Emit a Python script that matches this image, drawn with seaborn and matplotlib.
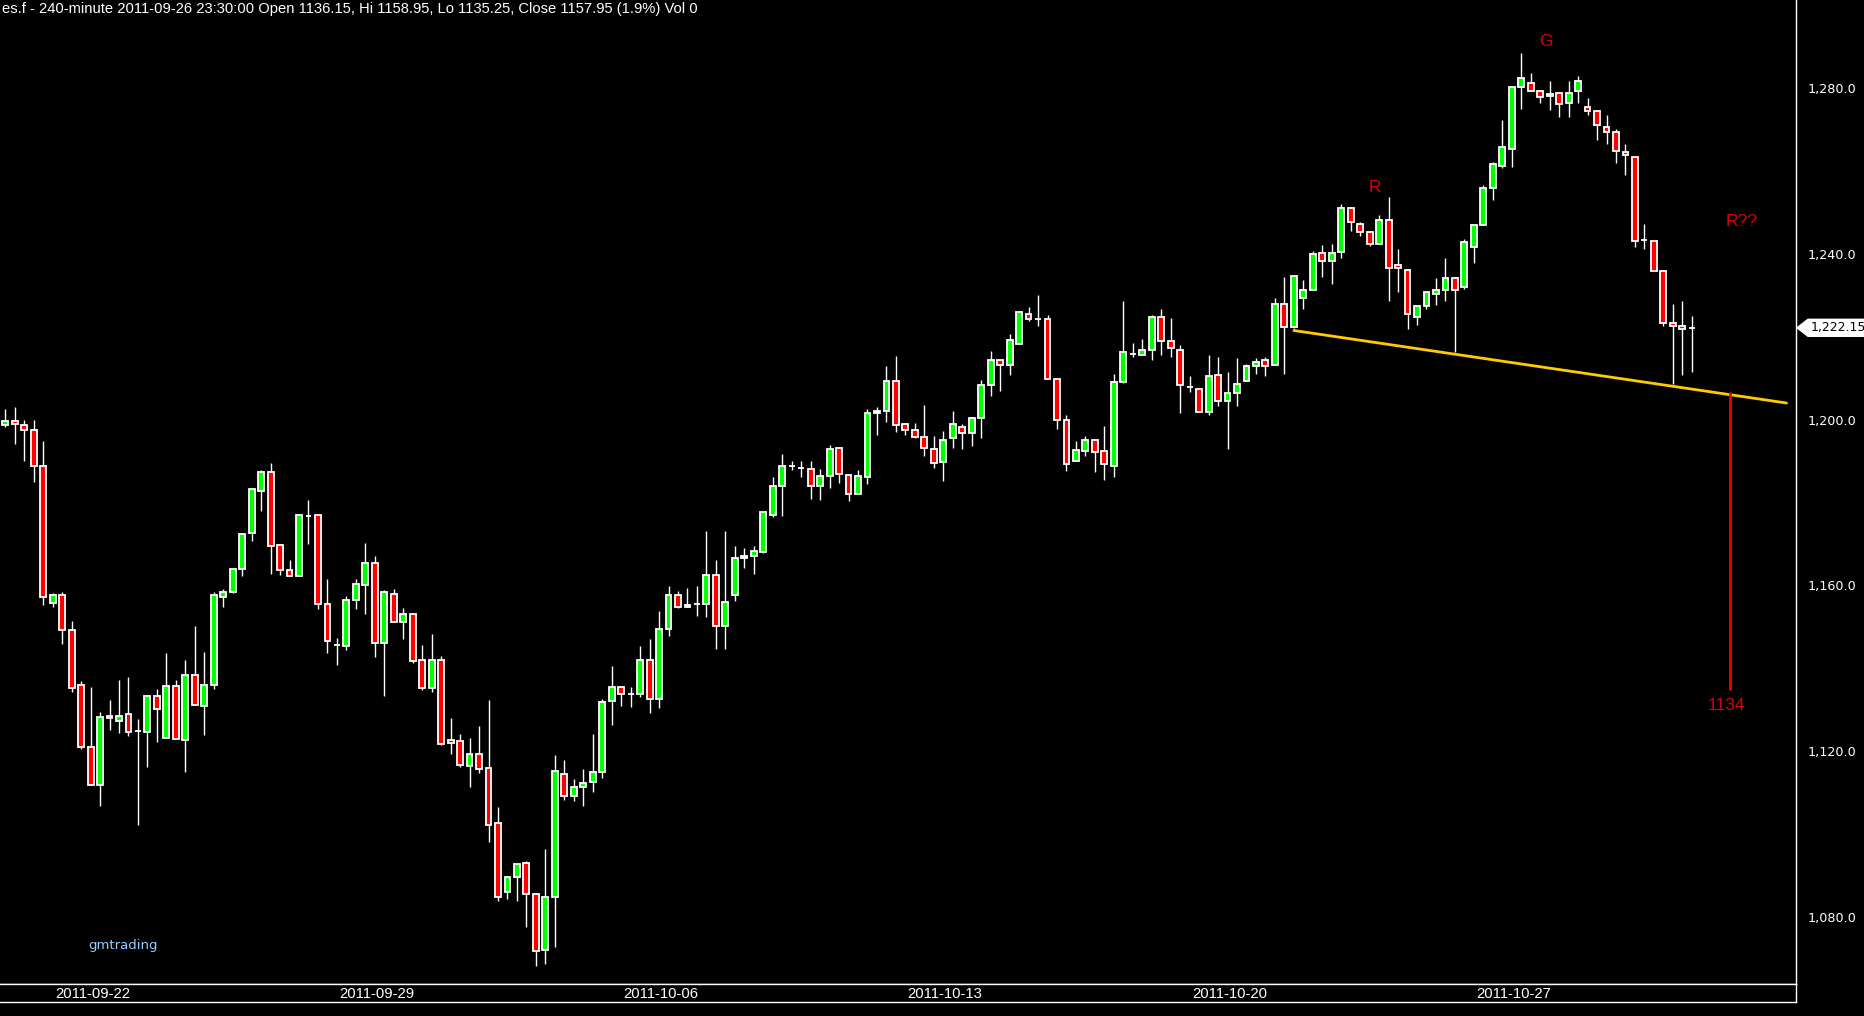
import numpy as np
import pandas as pd
import seaborn as sns
import matplotlib
matplotlib.use('Agg')
import matplotlib.pyplot as plt
from matplotlib.patches import Polygon
from matplotlib.transforms import IdentityTransform

sns.set_theme(style='dark', rc={'axes.facecolor': 'black', 'figure.facecolor': 'black'})
plt.rcParams['font.family'] = ['DejaVu Sans']

# 240-minute bars
opens = [1198.6, 1199.6, 1198.7, 1197.4, 1188.7, 1155.7, 1157.8, 1149.2, 1135.9, 1120.9,
         1111.8, 1128.4, 1127.4, 1128.9, 1124.8, 1124.7, 1133.3, 1123.1, 1135.7, 1122.6,
         1138.3, 1130.8, 1135.9, 1157.1, 1158.3, 1163.9, 1172.6, 1182.7, 1187.3, 1169.7,
         1163.6, 1162.2, 1176.8, 1176.9, 1155.5, 1145.7, 1145.5, 1156.5, 1160.2, 1165.3,
         1146.0, 1157.9, 1151.2, 1153.0, 1141.9, 1135.3, 1141.9, 1122.6, 1122.4, 1116.5,
         1119.3, 1116.0, 1102.7, 1086.1, 1089.7, 1093.0, 1085.5, 1072.0, 1084.8, 1114.4,
         1109.3, 1111.3, 1112.6, 1114.9, 1132.0, 1135.4, 1133.7, 1133.7, 1141.9, 1132.7,
         1149.4, 1157.6, 1154.7, 1155.4, 1155.4, 1162.4, 1150.1, 1157.8, 1166.5, 1167.0,
         1168.0, 1177.1, 1183.9, 1188.8, 1188.3, 1188.2, 1183.9, 1186.3, 1193.1, 1186.6,
         1182.0, 1186.1, 1201.5, 1202.0, 1209.2, 1198.9, 1197.4, 1195.9, 1192.8, 1189.7,
         1195.5, 1198.1, 1196.7, 1200.3, 1208.3, 1214.3, 1213.1, 1218.2, 1225.4, 1224.2,
         1224.2, 1209.7, 1199.8, 1189.9, 1192.4, 1195.2, 1192.4, 1188.7, 1209.0, 1215.9,
         1215.7, 1216.7, 1224.7, 1218.9, 1216.9, 1207.9, 1207.5, 1201.8, 1210.7, 1204.6,
         1206.3, 1209.2, 1212.9, 1214.3, 1213.1, 1227.8, 1222.3, 1229.3, 1231.2, 1240.1,
         1238.2, 1240.4, 1251.0, 1247.3, 1245.2, 1242.3, 1248.1, 1237.2, 1236.0, 1224.7,
         1227.3, 1230.2, 1231.2, 1234.1, 1232.1, 1241.6, 1246.9, 1255.8, 1261.3, 1265.4,
         1280.2, 1281.1, 1279.2, 1278.0, 1278.7, 1276.3, 1279.2, 1275.3, 1274.4, 1270.7,
         1269.5, 1264.5, 1263.3, 1243.4, 1243.2, 1235.8, 1223.2, 1222.5, 1222.15]
highs = [1202.6, 1203.1, 1199.9, 1199.9, 1194.8, 1158.1, 1158.3, 1151.4, 1136.9, 1135.5,
         1129.5, 1132.4, 1137.2, 1137.9, 1127.8, 1133.6, 1135.0, 1143.7, 1137.2, 1142.0,
         1150.1, 1143.9, 1158.3, 1159.1, 1163.9, 1172.6, 1183.2, 1187.8, 1189.5, 1169.7,
         1166.1, 1176.9, 1180.6, 1176.9, 1161.5, 1147.3, 1157.4, 1161.5, 1170.2, 1167.1,
         1158.8, 1159.1, 1154.5, 1153.0, 1145.6, 1148.3, 1143.0, 1128.0, 1124.1, 1123.2,
         1126.1, 1132.4, 1106.5, 1089.6, 1092.7, 1093.6, 1085.5, 1096.4, 1119.1, 1117.9,
         1113.3, 1115.7, 1124.1, 1132.5, 1140.6, 1135.4, 1135.5, 1145.4, 1147.1, 1153.8,
         1159.8, 1158.6, 1159.4, 1159.8, 1173.1, 1166.1, 1173.1, 1169.5, 1169.0, 1169.5,
         1177.6, 1186.1, 1191.7, 1190.0, 1190.0, 1190.0, 1188.1, 1193.8, 1193.1, 1186.6,
         1187.8, 1202.5, 1203.0, 1212.9, 1215.3, 1199.3, 1199.1, 1203.5, 1196.0, 1197.2,
         1202.0, 1198.9, 1200.6, 1209.5, 1216.6, 1214.5, 1220.6, 1226.1, 1227.1, 1230.1,
         1225.2, 1210.0, 1201.0, 1194.8, 1196.0, 1195.2, 1198.4, 1210.9, 1228.5, 1218.6,
         1219.4, 1225.2, 1226.6, 1224.4, 1217.9, 1210.4, 1207.5, 1215.5, 1215.0, 1211.6,
         1214.8, 1213.3, 1214.8, 1215.0, 1229.3, 1234.3, 1235.0, 1233.6, 1240.6, 1242.1,
         1242.4, 1251.9, 1251.4, 1247.6, 1245.4, 1249.3, 1253.6, 1241.1, 1236.0, 1227.3,
         1230.7, 1234.1, 1239.1, 1234.3, 1243.5, 1246.9, 1256.5, 1262.1, 1272.4, 1280.2,
         1288.4, 1283.5, 1279.4, 1281.6, 1278.7, 1281.6, 1282.8, 1277.5, 1274.8, 1273.4,
         1270.0, 1266.4, 1263.3, 1247.3, 1243.2, 1236.2, 1227.8, 1228.5, 1224.9]
lows = [1198.3, 1194.2, 1189.9, 1185.0, 1155.3, 1154.9, 1145.9, 1134.4, 1120.5, 1111.8,
        1106.9, 1125.1, 1124.5, 1123.7, 1102.3, 1116.3, 1122.3, 1123.1, 1122.9, 1115.1,
        1131.1, 1124.0, 1135.1, 1154.9, 1158.1, 1162.3, 1170.6, 1177.9, 1162.8, 1162.6,
        1162.2, 1162.2, 1170.1, 1154.4, 1143.7, 1140.9, 1144.5, 1154.4, 1153.0, 1142.7,
        1133.4, 1151.2, 1147.1, 1141.2, 1134.8, 1134.3, 1121.6, 1119.4, 1116.2, 1111.4,
        1114.8, 1098.0, 1083.9, 1084.4, 1083.9, 1077.7, 1068.3, 1068.7, 1072.7, 1108.3,
        1108.1, 1106.9, 1110.2, 1113.6, 1126.4, 1131.0, 1130.7, 1133.1, 1129.3, 1130.5,
        1147.9, 1154.5, 1154.7, 1152.6, 1152.4, 1144.7, 1144.7, 1156.3, 1164.2, 1162.8,
        1167.7, 1176.6, 1176.8, 1187.8, 1186.2, 1180.9, 1180.7, 1183.6, 1184.8, 1180.4,
        1182.0, 1184.5, 1196.4, 1199.5, 1196.9, 1196.4, 1195.5, 1191.3, 1188.4, 1185.3,
        1193.2, 1193.0, 1193.7, 1195.6, 1205.6, 1206.8, 1210.8, 1218.2, 1223.9, 1222.7,
        1209.7, 1197.7, 1187.5, 1189.9, 1191.1, 1187.3, 1185.5, 1186.2, 1208.8, 1215.2,
        1215.5, 1214.5, 1215.5, 1215.2, 1201.7, 1206.7, 1201.8, 1201.0, 1203.4, 1192.8,
        1203.3, 1209.2, 1211.1, 1210.4, 1213.1, 1210.9, 1222.0, 1226.8, 1231.2, 1234.3,
        1232.6, 1238.9, 1245.4, 1244.2, 1242.0, 1242.3, 1228.5, 1230.9, 1221.9, 1222.9,
        1226.8, 1227.7, 1228.7, 1216.4, 1231.4, 1237.9, 1246.9, 1252.9, 1260.6, 1260.9,
        1274.9, 1279.2, 1276.3, 1274.6, 1272.9, 1272.9, 1276.3, 1273.4, 1267.4, 1266.4,
        1261.8, 1258.9, 1241.6, 1241.1, 1235.8, 1222.7, 1208.7, 1210.7, 1211.4]
closes = [1199.6, 1198.9, 1197.4, 1188.7, 1157.1, 1157.6, 1149.2, 1135.2, 1120.9, 1111.8,
          1128.2, 1127.9, 1128.6, 1124.7, 1124.8, 1133.3, 1130.3, 1135.7, 1122.9, 1138.3,
          1131.1, 1135.9, 1157.6, 1158.3, 1163.9, 1172.3, 1183.2, 1187.3, 1169.4, 1163.6,
          1162.2, 1176.9, 1176.8, 1155.4, 1146.5, 1145.7, 1156.6, 1160.3, 1165.3, 1146.2,
          1158.4, 1151.2, 1153.0, 1141.8, 1135.3, 1141.9, 1121.8, 1122.1, 1116.7, 1119.3,
          1115.8, 1102.3, 1084.9, 1089.6, 1092.7, 1085.5, 1071.7, 1084.8, 1115.2, 1109.3,
          1111.3, 1112.3, 1114.9, 1131.8, 1135.4, 1133.7, 1133.7, 1141.9, 1132.5, 1149.4,
          1157.8, 1154.7, 1155.2, 1155.4, 1162.4, 1150.1, 1155.9, 1166.5, 1167.0, 1168.2,
          1177.6, 1184.1, 1188.7, 1188.8, 1188.3, 1183.9, 1186.3, 1192.8, 1186.8, 1182.0,
          1186.3, 1201.5, 1202.0, 1209.2, 1198.6, 1197.4, 1195.7, 1193.1, 1189.5, 1195.2,
          1198.9, 1196.7, 1200.3, 1208.3, 1214.3, 1213.1, 1219.1, 1225.9, 1224.2, 1224.2,
          1209.7, 1199.8, 1189.2, 1192.6, 1195.0, 1192.1, 1189.2, 1209.0, 1216.2, 1215.9,
          1216.7, 1224.7, 1218.9, 1217.2, 1208.3, 1207.9, 1201.8, 1210.4, 1204.6, 1206.3,
          1208.7, 1212.9, 1214.0, 1212.9, 1227.8, 1222.3, 1234.6, 1231.2, 1239.9, 1238.2,
          1240.1, 1251.0, 1247.6, 1245.2, 1242.3, 1248.1, 1236.5, 1236.5, 1225.4, 1227.3,
          1230.7, 1231.2, 1234.1, 1231.2, 1242.8, 1246.9, 1255.8, 1261.6, 1265.7, 1280.2,
          1282.3, 1279.2, 1277.8, 1278.5, 1276.1, 1278.9, 1281.8, 1274.4, 1271.0, 1269.5,
          1264.7, 1263.8, 1243.0, 1243.4, 1235.8, 1223.2, 1222.5, 1221.8, 1222.15]

date_labels = ['2011-09-22', '2011-09-29', '2011-10-06', '2011-10-13', '2011-10-20', '2011-10-27']
first_label_bar = 9.2
bars_per_week = 30
price_ticks = [1080, 1120, 1160, 1200, 1240, 1280]

# neckline and measured target
neck_x = [136, 188]
neck_y = [1221.5, 1204.0]
target_x = 182
target_top = 1206.6
target_bottom = 1134.8

header = ('es.f - 240-minute 2011-09-26 23:30:00 Open 1136.15, Hi 1158.95, '
          'Lo 1135.25, Close 1157.95 (1.9%) Vol 0')

df = pd.DataFrame({'open': opens, 'high': highs, 'low': lows, 'close': closes})
df['bar'] = np.arange(len(df))
df['body_lo'] = df[['open', 'close']].min(axis=1)
df['body_h'] = (df['close'] - df['open']).abs()
df['color'] = np.where(df['close'] > df['open'], '#00ff00',
                       np.where(df['close'] < df['open'], '#ff0000', 'white'))

W, H = 1865, 1016
fig = plt.figure(figsize=(W / 100, H / 100), dpi=100)
fig.patch.set_facecolor('black')
ax = fig.add_axes([0, 1 - 984 / H, 1796 / W, 984 / H])
ax.set_facecolor('black')

# wicks then bodies
ax.vlines(df['bar'], df['low'], df['high'], color='white', lw=1, zorder=2)
ax.bar(df['bar'], df['body_h'], bottom=df['body_lo'], width=0.62, color=df['color'],
       edgecolor='white', linewidth=1.3, zorder=3)

sns.lineplot(x=neck_x, y=neck_y, ax=ax, color='#ffcc00', lw=2, zorder=4)
ax.vlines(target_x, target_bottom, target_top, color='#ee0000', lw=2, zorder=4)

red_txt = '#dd0000'
ax.text(144.5, 1256.0, 'R', color=red_txt, fontsize=12.5, ha='center', va='center',
        family='Liberation Sans')
ax.text(162.6, 1291.2, 'G', color=red_txt, fontsize=12.5, ha='center', va='center',
        family='Liberation Sans')
ax.text(183.3, 1247.9, 'R??', color=red_txt, fontsize=12.5, ha='center', va='center',
        family='Liberation Sans')
ax.text(target_x - 0.3, target_bottom - 3.7, str(int(target_bottom // 1)), color=red_txt,
        fontsize=12.5, ha='center', va='center', family='Liberation Sans')
ax.text(12.4, 1073.1, 'gmtrading', color='#99ccff', fontsize=9.5, ha='center', va='center')

ax.set_xlim(-0.56, 189.0)
ax.set_ylim(1063.84, 1301.23)
ax.set_xticks([])
ax.yaxis.tick_right()
ax.set_yticks(price_ticks)
ax.set_yticklabels([f'{p:,.1f}' for p in price_ticks])
ax.tick_params(axis='y', colors='white', length=0, pad=8, labelsize=9.2)
ax.set_xlabel('')
ax.set_ylabel('')
for side, sp in ax.spines.items():
    sp.set_color('white')
    sp.set_linewidth(1)
    sp.set_visible(side in ('right', 'bottom'))

# date strip
axd = fig.add_axes([0, 1 - 1002 / H, 1796 / W, 18 / H])
axd.set_facecolor('black')
axd.set_xlim(ax.get_xlim())
axd.set_ylim(0, 1)
axd.set_xticks([])
axd.set_yticks([])
for side, sp in axd.spines.items():
    sp.set_color('white')
    sp.set_linewidth(1)
    sp.set_visible(side != 'left')
for k, lbl in enumerate(date_labels):
    axd.text(first_label_bar + k * bars_per_week, 0.45, lbl, color='white', fontsize=10.7,
             ha='center', va='center', family=['Liberation Sans Narrow', 'Liberation Sans'])

# last price marker on the price scale
fig.canvas.draw()
last = closes[-1]
y_px = ax.transData.transform((0, last))[1]
x0 = ax.transAxes.transform((1, 0))[0]
marker = Polygon([[x0 + 1, y_px], [x0 + 12, y_px + 8.5], [W, y_px + 8.5],
                  [W, y_px - 8.5], [x0 + 12, y_px - 8.5]], closed=True,
                 facecolor='white', edgecolor='white', transform=IdentityTransform())
fig.add_artist(marker)
fig.text((x0 + 15) / W, y_px / H, f'{last:,.2f}', color='black', fontsize=9,
         ha='left', va='center')

fig.text(2 / W, 1 - 9 / H, header, color='white', fontsize=10.6, ha='left', va='center',
         family='Liberation Sans')

fig.savefig('out.png', dpi=100, facecolor='black')
